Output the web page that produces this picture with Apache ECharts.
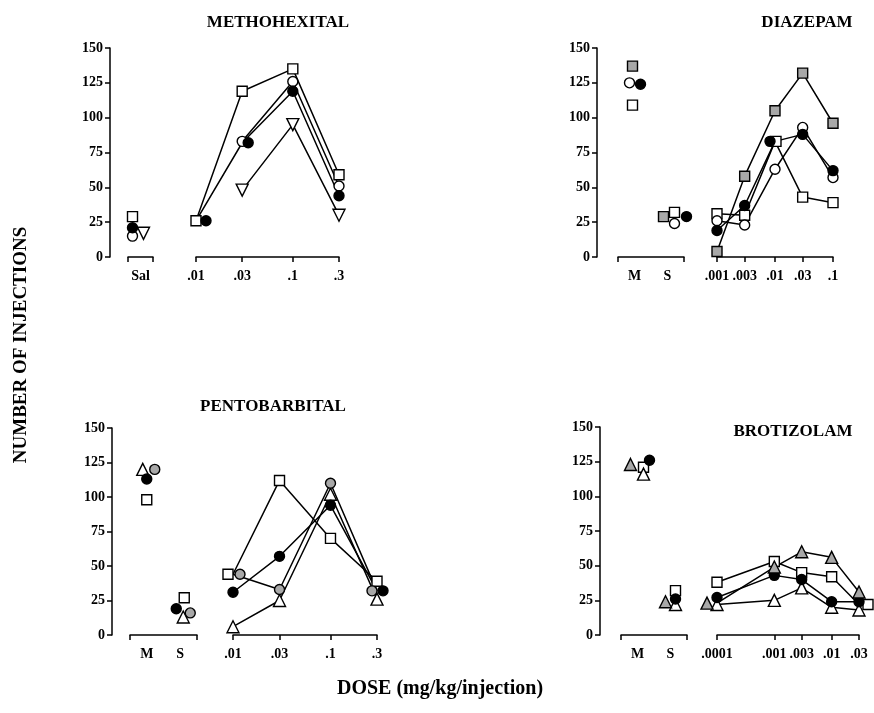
<!DOCTYPE html>
<html><head><meta charset="utf-8">
<script src="https://cdn.jsdelivr.net/npm/echarts@6/dist/echarts.min.js"></script>
<style>html,body{margin:0;padding:0;background:#fff}#c{width:874px;height:713px}</style>
</head><body><div id="c"></div>
<script>
// ---------- DATA ----------
const yMin = 0, yMax = 150, yStep = 25;

// Methohexital
const methoCtrlCats = ['Sal'];
const methoDoses = [0.01, 0.03, 0.1, 0.3];
const methoDoseLabels = ['.01', '.03', '.1', '.3'];
const methoSquareCtrl = [29];  const methoSquareDose = [26, 119, 135, 59];
const methoFilledCtrl = [21];  const methoFilledDose = [26, 82, 119, 44];
const methoOpenCtrl = [15];    const methoOpenDose = [null, 83, 126, 51];
const methoTriDownCtrl = [17]; const methoTriDownDose = [null, 48, 95, 30];

// Diazepam
const diazCtrlCats = ['M', 'S'];
const diazDoses = [0.001, 0.003, 0.01, 0.03, 0.1];
const diazDoseLabels = ['.001', '.003', '.01', '.03', '.1'];
const diazShadedSqCtrl = [137, 29]; const diazShadedSqDose = [4, 58, 105, 132, 96];
const diazSquareCtrl = [109, 32];   const diazSquareDose = [31, 30, 83, 43, 39];
const diazOpenCtrl = [125, 24];     const diazOpenDose = [26, 23, 63, 93, 57];
const diazFilledCtrl = [124, 29];   const diazFilledDose = [19, 37, 83, 88, 62];

// Pentobarbital
const pentoCtrlCats = ['M', 'S'];
const pentoDoses = [0.01, 0.03, 0.1, 0.3];
const pentoDoseLabels = ['.01', '.03', '.1', '.3'];
const pentoSquareCtrl = [98, 27];   const pentoSquareDose = [44, 112, 70, 39];
const pentoShadedCtrl = [120, 16];  const pentoShadedDose = [44, 33, 110, 32];
const pentoFilledCtrl = [113, 19];  const pentoFilledDose = [31, 57, 94, 32];
const pentoTriCtrl = [120, 13];     const pentoTriDose = [6, 25, 102, 26];

// Brotizolam
const brotCtrlCats = ['M', 'S'];
const brotDoses = [0.0001, 0.001, 0.003, 0.01, 0.03];
const brotDoseLabels = ['.0001', '.001', '.003', '.01', '.03'];
const brotShadedTriCtrl = [123, 24]; const brotShadedTriDose = [23, 49, 60, 56, 31];
const brotSquareCtrl = [121, 32];    const brotSquareDose = [38, 53, 45, 42, 22];
const brotFilledCtrl = [126, 26];    const brotFilledDose = [27, 43, 40, 24, 24];
const brotTriCtrl = [116, 22];       const brotTriDose = [22, 25, 34, 20, 18];

// ---------- STYLE / LAYOUT ----------
const FONT = '"Liberation Serif", "DejaVu Serif", serif';
const GRAY = '#a8a8a8';
const MARK = {
  sq:    {symbol: 'rect', size: 10, fill: '#fff'},
  sqg:   {symbol: 'rect', size: 10, fill: GRAY},
  oc:    {symbol: 'circle', size: 10, fill: '#fff'},
  fc:    {symbol: 'circle', size: 10, fill: '#000'},
  cg:    {symbol: 'circle', size: 10, fill: GRAY},
  tri:   {symbol: 'triangle', size: 12, fill: '#fff'},
  trig:  {symbol: 'triangle', size: 12, fill: GRAY},
  tdown: {symbol: 'triangle', size: 12, fill: '#fff', rotate: 180}
};

const panels = [
  {top: 48, height: 209, ctrl: [128, 25], dose: [196, 143], yOffset: 18,
   title: 'METHOHEXITAL', titlePos: [278, 23],
   cats: methoCtrlCats, doses: methoDoses, labels: methoDoseLabels,
   series: [
     {m: 'tdown', c: methoTriDownCtrl, d: methoTriDownDose, co: [3], dj: []},
     {m: 'sq', c: methoSquareCtrl, d: methoSquareDose, co: [-8], dj: []},
     {m: 'oc', c: methoOpenCtrl, d: methoOpenDose, co: [-8], dj: []},
     {m: 'fc', c: methoFilledCtrl, d: methoFilledDose, co: [-8], dj: [10, 6]}
   ]},
  {top: 48, height: 209, ctrl: [618, 66], dose: [717, 116], yOffset: 21,
   title: 'DIAZEPAM', titlePos: [807, 23],
   cats: diazCtrlCats, doses: diazDoses, labels: diazDoseLabels,
   series: [
     {m: 'sq', c: diazSquareCtrl, d: diazSquareDose, co: [-2, 7], dj: [0, 0, 1]},
     {m: 'oc', c: diazOpenCtrl, d: diazOpenDose, co: [-5, 7], dj: []},
     {m: 'fc', c: diazFilledCtrl, d: diazFilledDose, co: [6, 19], dj: [0, 0, -5]},
     {m: 'sqg', c: diazShadedSqCtrl, d: diazShadedSqDose, co: [-2, -4], dj: []}
   ]},
  {top: 428, height: 207, ctrl: [130, 67], dose: [233, 144], yOffset: 18,
   title: 'PENTOBARBITAL', titlePos: [273, 407],
   cats: pentoCtrlCats, doses: pentoDoses, labels: pentoDoseLabels,
   series: [
     {m: 'sq', c: pentoSquareCtrl, d: pentoSquareDose, co: [0, 4], dj: [-5]},
     {m: 'tri', c: pentoTriCtrl, d: pentoTriDose, co: [-4, 3], dj: []},
     {m: 'cg', c: pentoShadedCtrl, d: pentoShadedDose, co: [8, 10], dj: [7, 0, 0, -5]},
     {m: 'fc', c: pentoFilledCtrl, d: pentoFilledDose, co: [0, -4], dj: [0, 0, 0, 6]}
   ]},
  {top: 427, height: 208, ctrl: [621, 66], dose: [717, 142], yOffset: 21,
   title: 'BROTIZOLAM', titlePos: [793, 432],
   cats: brotCtrlCats, doses: brotDoses, labels: brotDoseLabels,
   series: [
     {m: 'sq', c: brotSquareCtrl, d: brotSquareDose, co: [6, 5], dj: [0, 0, 0, 0, 9]},
     {m: 'tri', c: brotTriCtrl, d: brotTriDose, co: [6, 5], dj: []},
     {m: 'fc', c: brotFilledCtrl, d: brotFilledDose, co: [12, 5], dj: []},
     {m: 'trig', c: brotShadedTriCtrl, d: brotShadedTriDose, co: [-7, -5], dj: [-10]}
   ]}
];

// ---------- BUILD ----------
const axisLineStyle = {color: '#000', width: 1.5};
const labelStyle = {color: '#000', fontFamily: FONT, fontWeight: 'bold', fontSize: 14};
const grids = [], xAxes = [], yAxes = [], series = [], graphics = [];

panels.forEach((p) => {
  const gC = grids.length, gD = gC + 1;
  grids.push({left: p.ctrl[0], width: p.ctrl[1], top: p.top, height: p.height, containLabel: false});
  grids.push({left: p.dose[0], width: p.dose[1], top: p.top, height: p.height, containLabel: false});

  xAxes.push({
    type: 'category', gridIndex: gC, data: p.cats, boundaryGap: true,
    axisLine: {show: true, lineStyle: axisLineStyle},
    axisTick: {show: true, length: 5, interval: (i) => i === 0, lineStyle: axisLineStyle},
    axisLabel: Object.assign({margin: 12, interval: 0}, labelStyle),
    splitLine: {show: false}
  });
  const labs = p.labels, ds = p.doses;
  xAxes.push({
    type: 'log', logBase: 10, gridIndex: gD, min: ds[0], max: ds[ds.length - 1],
    axisLine: {show: true, lineStyle: axisLineStyle},
    axisTick: {show: true, length: 5, customValues: ds, lineStyle: axisLineStyle},
    axisLabel: Object.assign({margin: 12, customValues: ds, formatter: (v) => {
      let best = 0;
      ds.forEach((d, i) => { if (Math.abs(Math.log10(d) - Math.log10(v)) < Math.abs(Math.log10(ds[best]) - Math.log10(v))) best = i; });
      return labs[best];
    }}, labelStyle),
    splitLine: {show: false}, minorTick: {show: false}
  });

  yAxes.push({
    type: 'value', gridIndex: gC, min: yMin, max: yMax, interval: yStep,
    position: 'left', offset: p.yOffset,
    axisLine: {show: true, lineStyle: axisLineStyle},
    axisTick: {show: true, length: 5, lineStyle: axisLineStyle},
    axisLabel: Object.assign({margin: 7}, labelStyle),
    splitLine: {show: false}
  });
  yAxes.push({type: 'value', gridIndex: gD, min: yMin, max: yMax, interval: yStep, show: false, splitLine: {show: false}});

  p.series.forEach((s) => {
    const mk = MARK[s.m];
    const itemStyle = {color: mk.fill, borderColor: '#000', borderWidth: 1.4, opacity: 1};
    series.push({
      type: 'scatter', xAxisIndex: gC, yAxisIndex: gC, clip: false,
      symbol: mk.symbol, symbolSize: mk.size, symbolRotate: mk.rotate || 0,
      itemStyle: itemStyle, z: 3,
      data: s.c.map((v, i) => ({value: [p.cats[i], v], symbolOffset: [s.co[i] || 0, 0]}))
    });
    series.push({
      type: 'line', xAxisIndex: gD, yAxisIndex: gD, clip: false,
      symbol: mk.symbol, symbolSize: mk.size, symbolRotate: mk.rotate || 0,
      showAllSymbol: true,
      lineStyle: {color: '#000', width: 1.5},
      itemStyle: itemStyle, z: 3,
      data: s.d.map((v, i) => ({value: [ds[i], v], symbolOffset: [s.dj[i] || 0, 0]}))
    });
  });

  graphics.push({
    type: 'text', x: p.titlePos[0], y: p.titlePos[1],
    style: {text: p.title, textAlign: 'center', textVerticalAlign: 'middle',
      font: 'bold 17px ' + FONT, fill: '#000'}
  });
});

graphics.push({
  type: 'text', x: 21, y: 345, rotation: Math.PI / 2,
  style: {text: 'NUMBER OF INJECTIONS', textAlign: 'center', textVerticalAlign: 'middle',
    font: 'bold 19px ' + FONT, fill: '#000'}
});
graphics.push({
  type: 'text', x: 440, y: 689,
  style: {text: 'DOSE (mg/kg/injection)', textAlign: 'center', textVerticalAlign: 'middle',
    font: 'bold 20px ' + FONT, fill: '#000'}
});

const chart = echarts.init(document.getElementById('c'), null, {renderer: 'canvas'});
chart.setOption({
  animation: false,
  backgroundColor: '#fff',
  grid: grids, xAxis: xAxes, yAxis: yAxes, series: series, graphic: graphics
});
</script>
</body></html>
